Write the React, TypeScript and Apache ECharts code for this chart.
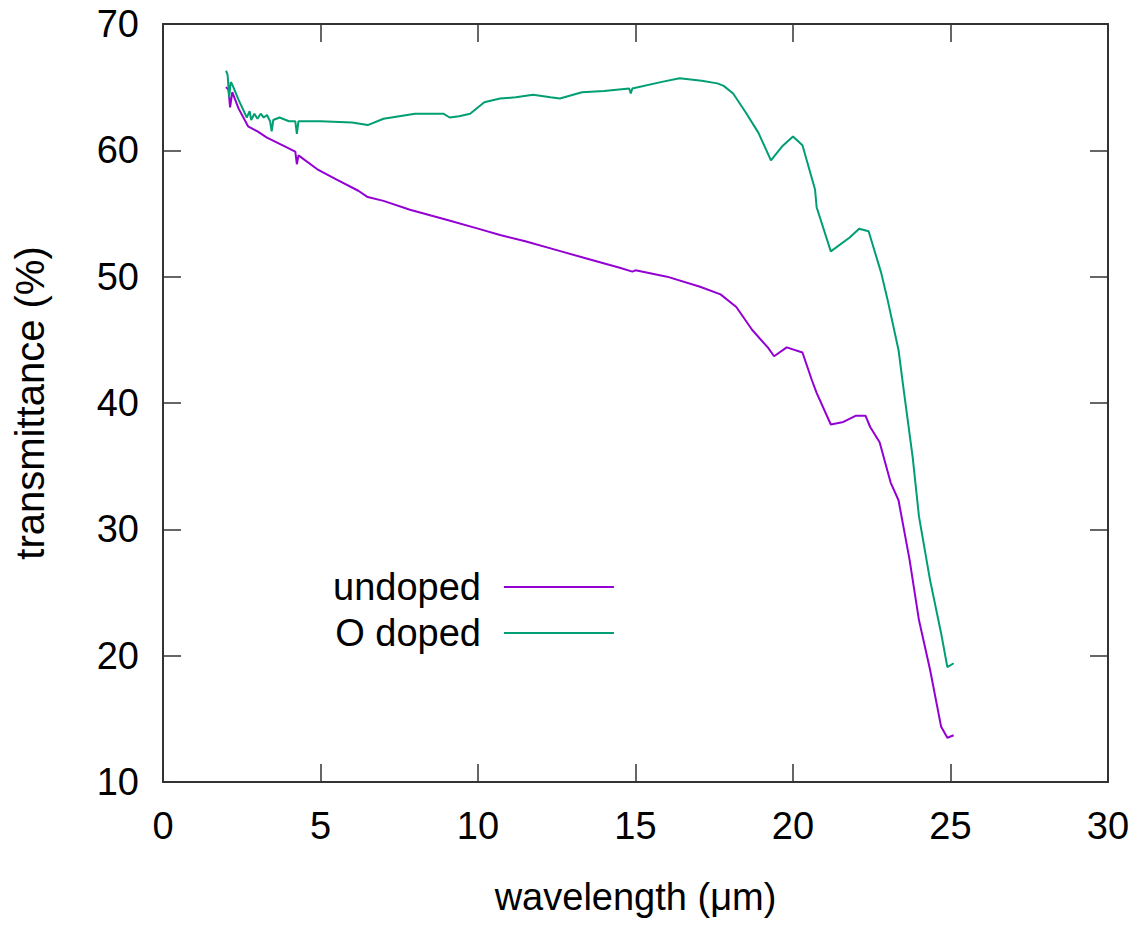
import React, { useEffect, useRef } from "react";
import * as echarts from "echarts";

const undopedX = [2.0, 2.08, 2.13, 2.2, 2.4, 2.7, 3.0, 3.3, 3.8, 4.2, 4.25, 4.3, 4.9, 5.5, 6.2, 6.5, 7.0, 7.84, 9.0, 10.0, 10.7, 11.5, 12.5, 13.5, 14.5, 14.9, 15.0, 16.0, 17.05, 17.7, 18.2, 18.7, 19.2, 19.4, 19.8, 20.3, 20.6, 20.75, 21.2, 21.6, 22.0, 22.3, 22.45, 22.75, 23.1, 23.35, 23.7, 24.0, 24.35, 24.7, 24.9, 25.1];
const undopedY = [65.0, 64.8, 63.4, 64.6, 63.3, 61.9, 61.5, 61.0, 60.4, 59.9, 58.9, 59.6, 58.5, 57.7, 56.8, 56.3, 56.0, 55.3, 54.5, 53.8, 53.3, 52.8, 52.1, 51.4, 50.7, 50.4, 50.5, 50.0, 49.2, 48.6, 47.6, 45.8, 44.4, 43.7, 44.4, 44.0, 41.8, 40.8, 38.3, 38.5, 39.0, 39.0, 38.1, 36.9, 33.7, 32.3, 27.6, 22.8, 18.9, 14.4, 13.5, 13.7];

const dopedX = [2.0, 2.05, 2.1, 2.15, 2.2, 2.4, 2.66, 2.75, 2.8, 2.9, 3.0, 3.1, 3.2, 3.3, 3.4, 3.45, 3.5, 3.7, 4.0, 4.2, 4.25, 4.3, 5.0, 6.0, 6.5, 7.0, 7.5, 8.0, 8.9, 9.1, 9.4, 9.75, 10.2, 10.7, 11.2, 11.75, 12.3, 12.6, 13.3, 14.0, 14.8, 14.85, 14.9, 15.8, 16.4, 17.1, 17.6, 17.8, 18.1, 18.5, 18.9, 19.3, 19.65, 20.0, 20.3, 20.7, 20.75, 21.2, 21.8, 22.1, 22.4, 22.8, 23.0, 23.35, 23.5, 23.8, 24.0, 24.35, 24.7, 24.9, 25.1];
const dopedY = [66.3, 66.0, 64.2, 65.4, 65.2, 64.0, 62.6, 63.1, 62.4, 62.9, 62.5, 62.9, 62.6, 62.8, 62.3, 61.5, 62.4, 62.6, 62.3, 62.3, 61.3, 62.3, 62.3, 62.2, 62.0, 62.5, 62.7, 62.9, 62.9, 62.6, 62.7, 62.9, 63.8, 64.1, 64.2, 64.4, 64.2, 64.1, 64.6, 64.7, 64.9, 64.5, 64.9, 65.4, 65.7, 65.5, 65.3, 65.1, 64.5, 63.0, 61.4, 59.2, 60.3, 61.1, 60.4, 56.9, 55.5, 52.0, 53.1, 53.8, 53.6, 50.3, 48.2, 44.2, 41.3, 35.7, 31.0, 26.0, 21.8, 19.1, 19.4];

const seriesNames = ["undoped", "O doped"];
const seriesColors = ["#9400d3", "#009e73"];
const xTitle = "wavelength (μm)";
const yTitle = "transmittance (%)";

const FONT = "'Liberation Sans', Arial, sans-serif";

export default function App() {
  const ref = useRef<HTMLDivElement>(null);
  useEffect(() => {
    if (!ref.current) return;
    const chart = echarts.init(ref.current, undefined, { renderer: "svg" });
    const axisLine = { show: true, onZero: false, lineStyle: { color: "#333", width: 2 } };
    const tick = { show: true, inside: true, length: 18, lineStyle: { color: "#333", width: 1.5 } };
    const label = { color: "#000", fontSize: 38, fontFamily: FONT };
    chart.setOption({
      animation: false,
      textStyle: { fontFamily: FONT },
      grid: { left: 163, right: 36, top: 24, bottom: 143, containLabel: false },
      legend: {
        data: seriesNames,
        orient: "vertical",
        left: 333,
        top: 567,
        padding: 0,
        align: "right",
        icon: "rect",
        itemWidth: 110,
        itemHeight: 2,
        itemGap: 6,
        selectedMode: false,
        textStyle: { ...label, lineHeight: 40, padding: [0, 18, 0, 0] },
      },
      xAxis: [
        {
          type: "value", min: 0, max: 30, interval: 5, position: "bottom",
          axisLine, axisTick: tick, splitLine: { show: false },
          axisLabel: { ...label, margin: 25 },
          name: xTitle, nameLocation: "middle", nameGap: 96,
          nameTextStyle: { ...label },
        },
        {
          type: "value", min: 0, max: 30, interval: 5, position: "top",
          axisLine, axisTick: tick, splitLine: { show: false },
          axisLabel: { show: false },
        },
      ],
      yAxis: [
        {
          type: "value", min: 10, max: 70, interval: 10, position: "left",
          axisLine, axisTick: tick, splitLine: { show: false },
          axisLabel: { ...label, margin: 24 },
          name: yTitle, nameLocation: "middle", nameGap: 113,
          nameTextStyle: { ...label, fontSize: 40 },
        },
        {
          type: "value", min: 10, max: 70, interval: 10, position: "right",
          axisLine, axisTick: tick, splitLine: { show: false },
          axisLabel: { show: false },
        },
      ],
      series: [
        {
          name: seriesNames[0], type: "line", showSymbol: false, symbol: "none",
          xAxisIndex: 0, yAxisIndex: 0,
          lineStyle: { color: seriesColors[0], width: 2 },
          itemStyle: { color: seriesColors[0] },
          data: undopedX.map((x, i) => [x, undopedY[i]]),
        },
        {
          name: seriesNames[1], type: "line", showSymbol: false, symbol: "none",
          xAxisIndex: 0, yAxisIndex: 0,
          lineStyle: { color: seriesColors[1], width: 2 },
          itemStyle: { color: seriesColors[1] },
          data: dopedX.map((x, i) => [x, dopedY[i]]),
        },
      ],
    });
    return () => chart.dispose();
  }, []);
  return (
    <div
      ref={ref}
      style={{ position: "absolute", left: 0, top: 0, width: 1144, height: 925, background: "#fff" }}
    />
  );
}
